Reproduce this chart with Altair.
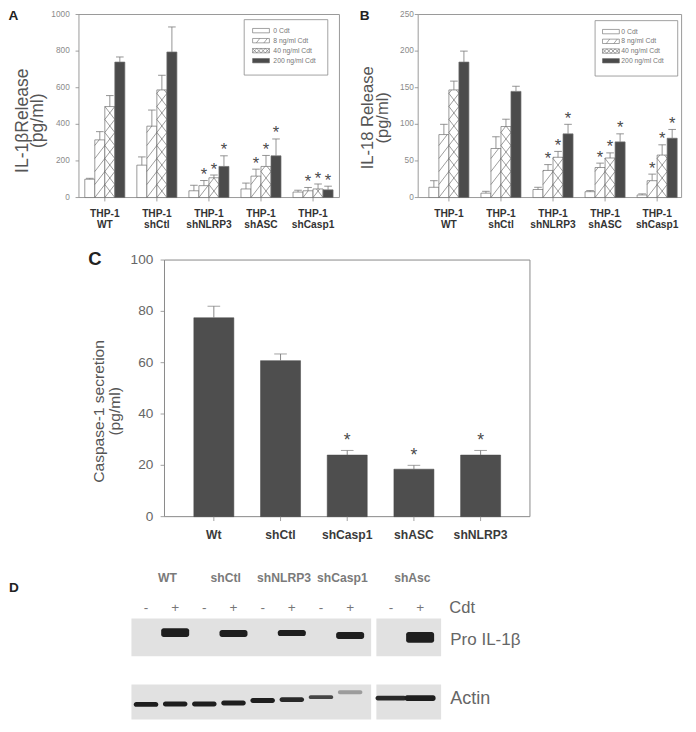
import altair as alt
import pandas as pd

S = 0.972          # the whole figure is shrunk a little to fit inside the page margin
W, H = 680, 712
FONT = "Liberation Sans"


def P(v):
    return round(v * S, 2)


# ---------------------------------------------------------------- data
ab_groups = ["THP-1\nWT", "THP-1\nshCtl", "THP-1\nshNLRP3", "THP-1\nshASC", "THP-1\nshCasp1"]
doses = ["0 Cdt", "8 ng/ml Cdt", "40 ng/ml Cdt", "200 ng/ml Cdt"]

# Panel A: IL-1beta release (pg/ml), one row per group, dose order
il1b_mean = [
    [100, 315, 497, 740],
    [177, 390, 588, 795],
    [37, 65, 108, 170],
    [47, 117, 170, 228],
    [30, 37, 47, 42],
]
il1b_err = [
    [5, 45, 60, 28],
    [45, 88, 80, 137],
    [30, 28, 15, 58],
    [32, 38, 60, 92],
    [10, 18, 27, 20],
]
il1b_sig = [
    [0, 0, 0, 0],
    [0, 0, 0, 0],
    [0, 1, 1, 1],
    [0, 1, 1, 1],
    [0, 1, 1, 1],
]
il1b_ticks = [0, 200, 400, 600, 800, 1000]

# Panel B: IL-18 release (pg/ml)
il18_mean = [
    [14, 86, 147, 185],
    [6, 67, 97, 145],
    [11, 37, 55, 87],
    [8, 41, 54, 76],
    [3.5, 23, 58, 81],
]
il18_err = [
    [9, 14, 12, 15],
    [2.5, 16, 10, 7],
    [3, 8, 8, 13],
    [1.5, 6, 7, 11],
    [1.5, 9, 14, 12],
]
il18_sig = [
    [0, 0, 0, 0],
    [0, 0, 0, 0],
    [0, 1, 1, 1],
    [0, 1, 1, 1],
    [0, 1, 1, 1],
]
il18_ticks = [0, 50, 100, 150, 200, 250]

# Panel C: caspase-1 secretion (pg/ml)
casp_groups = ["Wt", "shCtl", "shCasp1", "shASC", "shNLRP3"]
casp_mean = [77.5, 60.8, 24.0, 18.5, 24.0]
casp_err = [4.5, 2.6, 1.8, 1.5, 1.8]
casp_sig = [0, 0, 1, 1, 1]
casp_ticks = [0, 20, 40, 60, 80, 100]

# Panel D: western blot (10 lanes, -/+ Cdt per cell line)
blot_groups = ["WT", "shCtl", "shNLRP3", "shCasp1", "shAsc"]
lane_sign = ["-", "+", "-", "+", "-", "+", "-", "+", "-", "+"]
pro_strength = [0, 1.2, 0, 0.95, 0, 0.85, 0, 0.95, 0, 1.45]     # pro IL-1beta band
pro_shift = [0, -1.5, 0, -0.5, 0, -1, 0, 1.5, 0, 3.5]
actin_strength = [1, 1, 1, 1, 1, 0.95, 0.8, 0.35, 0.95, 1.2]   # actin band
actin_shift = [2.5, 2, 2, 1, -1.5, -2.5, -5, -10, -4, -4]

# ---------------------------------------------------------------- styles
FILLS = ["#ffffff", "#ffffff", "#ffffff", "#4b4b4b"]
EDGE = "#6e6e6e"
ERR = "#7a7a7a"
FRAME = "#9a9a9a"
TICK = "#8a8a8a"
G_STEP = 5.2      # distance between groups, in bar widths
CAP = 0.38        # half width of an error cap, in bar widths
SLOPE = 1.3       # steepness of the hatch lines
HATCH = {"8 ng/ml Cdt": "/", "40 ng/ml Cdt": "/\\"}

R0 = "M-1,-0.26H1V0.26H-1Z"
SHAPES = [
    R0,
    R0 + "M-0.55,0.26L-0.15,-0.26M0.35,0.26L0.75,-0.26",
    R0 + "M-1,0.26L-0.5,-0.26L0,0.26L0.5,-0.26L1,0.26M-1,-0.26L-0.5,0.26L0,-0.26L0.5,0.26L1,-0.26",
    R0,
]


def box(L, R, T, B, color, sw=1.0):
    d = pd.DataFrame({"lo": [0], "hi": [1]})
    return alt.Chart(d).mark_rect(fillOpacity=0, stroke=color, strokeWidth=sw).encode(
        x=alt.X("lo:Q", scale=alt.Scale(domain=[0, 1], range=[P(L), P(R)], nice=False, zero=False), axis=None),
        x2="hi:Q",
        y=alt.Y("lo:Q", scale=alt.Scale(domain=[0, 1], range=[P(B), P(T)], nice=False, zero=False), axis=None),
        y2="hi:Q",
    )


def text_at(t, x, y, size, color="#555555", weight="normal", angle=0, align="center",
            line_height=None):
    kw = dict(font=FONT, fontSize=P(size), fontWeight=weight, color=color, align=align,
              baseline="middle", lineBreak="\n")
    if angle:
        kw["angle"] = angle
    if line_height:
        kw["lineHeight"] = P(line_height)
    return alt.Chart(pd.DataFrame({"t": [t]})).mark_text(**kw).encode(
        text="t:N", x=alt.value(P(x)), y=alt.value(P(y)))


def y_ticks(ticks, ys, L, tick_len, pad, size, color):
    tdf = pd.DataFrame({"v": ticks, "lab": [str(t) for t in ticks]})
    rules = alt.Chart(tdf).mark_rule(color=TICK, strokeWidth=0.8).encode(
        y=alt.Y("v:Q", scale=ys, axis=None), x=alt.value(P(L - tick_len)), x2=alt.value(P(L)))
    labs = alt.Chart(tdf).mark_text(align="right", baseline="middle", font=FONT,
                                    fontSize=P(size), color=color).encode(
        y=alt.Y("v:Q", scale=ys, axis=None), x=alt.value(P(L - tick_len - pad)), text="lab:N")
    return [rules, labs]


def panel_df(means, errs, sig):
    rows = []
    for g, name in enumerate(ab_groups):
        for d, dose in enumerate(doses):
            x0 = g * G_STEP + d
            m, e = means[g][d], errs[g][d]
            rows.append(dict(group=name, dose=dose, x0=x0, x1=x0 + 1, xc=x0 + 0.5,
                             c0=x0 + 0.5 - CAP, c1=x0 + 0.5 + CAP, val=m, top=m + e,
                             sig=sig[g][d]))
    return pd.DataFrame(rows)


def hatch_df(df, sp):
    segs = []
    for r in df.itertuples():
        for kind in HATCH.get(r.dose, ""):
            k = 0
            while k * sp < r.val:
                lo, hi = k * sp, (k + 1) * sp
                if kind == "/":
                    xa, ya = r.x0, lo
                    if hi <= r.val:
                        xb, yb = r.x1, hi
                    else:
                        xb, yb = r.x0 + (r.val - lo) / sp, r.val
                else:
                    xb, yb = r.x1, lo
                    if hi <= r.val:
                        xa, ya = r.x0, hi
                    else:
                        xa, ya = r.x0 + (hi - r.val) / sp, r.val
                segs.append(dict(x=xa, y=ya, x2=xb, y2=yb))
                k += 1
    return pd.DataFrame(segs)


def ab_panel(means, errs, sig, ymax, yticks, L, R, T, B, first_bar, unit,
             title, tcx, tcy, tsize, label_pad):
    df = panel_df(means, errs, sig)
    lo = -(first_bar - L) / unit
    hi = lo + (R - L) / unit
    sp = SLOPE * unit / ((B - T) / ymax)
    hdf = hatch_df(df, sp)
    xs = alt.Scale(domain=[lo, hi], range=[P(L), P(R)], nice=False, zero=False)
    ys = alt.Scale(domain=[0, ymax], range=[P(B), P(T)], nice=False, zero=False)
    centers = [g * G_STEP + 2 for g in range(len(ab_groups))]
    gdf = pd.DataFrame({"group": ab_groups, "gc": centers})

    bars = alt.Chart(df).mark_rect(stroke=EDGE, strokeWidth=0.7).encode(
        x=alt.X("x0:Q", scale=xs, axis=None), x2="x1:Q",
        y=alt.Y("val:Q", scale=ys, axis=None), y2=alt.Y2Datum(0),
        fill=alt.Fill("dose:N", scale=alt.Scale(domain=doses, range=FILLS), legend=None),
    )
    hatch = alt.Chart(hdf).mark_rule(color="#5a5a5a", strokeWidth=0.6).encode(
        x=alt.X("x:Q", scale=xs, axis=None), x2="x2:Q",
        y=alt.Y("y:Q", scale=ys, axis=None), y2="y2:Q",
    )
    err = alt.Chart(df).mark_rule(color=ERR, strokeWidth=0.8).encode(
        x=alt.X("xc:Q", scale=xs, axis=None),
        y=alt.Y("val:Q", scale=ys, axis=None), y2="top:Q",
    )
    caps = alt.Chart(df).mark_rule(color=ERR, strokeWidth=0.8).encode(
        x=alt.X("c0:Q", scale=xs, axis=None), x2="c1:Q",
        y=alt.Y("top:Q", scale=ys, axis=None),
    )
    stars = alt.Chart(df).transform_filter("datum.sig == 1").mark_text(
        text="*", font=FONT, fontSize=P(17), color="#4a4a4a", baseline="alphabetic", dy=-P(0.5)
    ).encode(
        x=alt.X("xc:Q", scale=xs, axis=None),
        y=alt.Y("top:Q", scale=ys, axis=None),
    )
    xt = alt.Chart(gdf).mark_rule(color=TICK, strokeWidth=0.8).encode(
        x=alt.X("gc:Q", scale=xs, axis=None), y=alt.value(P(B)), y2=alt.value(P(B + 4)))
    labels = alt.Chart(gdf).mark_text(
        lineBreak="\n", baseline="top", align="center", font=FONT, fontSize=P(10.5),
        fontWeight="bold", color="#333333", lineHeight=P(12), dy=P(11.4)
    ).encode(
        x=alt.X("gc:Q", scale=xs, axis=None),
        y=alt.YDatum(0, scale=ys, axis=None),
        text="group:N",
    )
    layers = [bars, hatch, err, caps, stars, xt, labels]
    layers += y_ticks(yticks, ys, L, 3.5, label_pad, 8.5, "#8a8a8a")
    return [box(L, R, T, B, FRAME), alt.layer(*layers),
            text_at(title, tcx, tcy, tsize, angle=270, line_height=15.5)]


def legend(L, R, T, B, sym_x, txt_x, row0, row3):
    dd = pd.DataFrame({"dose": doses})
    ys = alt.Scale(domain=doses, range=[P(row0), P(row3)], padding=0)
    sym = alt.Chart(dd).mark_point(filled=True, opacity=1, size=P(17.3) ** 2,
                                   stroke="#666666", strokeWidth=0.6).encode(
        x=alt.value(P(sym_x)),
        y=alt.Y("dose:N", sort=doses, scale=ys, axis=None),
        shape=alt.Shape("dose:N", scale=alt.Scale(domain=doses, range=SHAPES), legend=None),
        fill=alt.Fill("dose:N", scale=alt.Scale(domain=doses, range=FILLS), legend=None),
    )
    txt = alt.Chart(dd).mark_text(align="left", baseline="middle", font=FONT,
                                  fontSize=P(7), color="#777777").encode(
        x=alt.value(P(txt_x)),
        y=alt.Y("dose:N", sort=doses, scale=ys, axis=None),
        text="dose:N",
    )
    return [box(L, R, T, B, "#8a8a8a", 0.8), alt.layer(sym, txt)]


# ---------------------------------------------------------------- panels A, B
# (title x = centre of the first title line; the second line follows to its right)
panelA = ab_panel(il1b_mean, il1b_err, il1b_sig, 1000, il1b_ticks,
                  73, 341, 6.7, 195, 79, 10.3, "IL-1βRelease\n(pg/ml)", 15, 116, 18, 6)
panelB = ab_panel(il18_mean, il18_err, il18_sig, 250, il18_ticks,
                  422, 693, 6.7, 195, 433, 10.3, "IL-18 Release\n(pg/ml)", 370, 113, 17, 1)
legA = legend(243, 329, 12, 69, 260.3, 273, 23.3, 54.2)
legB = legend(604, 689, 13, 70, 620.3, 631, 24.3, 54.3)

# ---------------------------------------------------------------- panel C
cdf = pd.DataFrame({"group": casp_groups, "val": casp_mean,
                    "top": [m + e for m, e in zip(casp_mean, casp_err)], "sig": casp_sig})
cx = alt.Scale(domain=casp_groups, range=[P(161), P(537)], paddingInner=0.4, paddingOuter=0.44)
cy = alt.Scale(domain=[0, 100], range=[P(523.3), P(259.3)], nice=False, zero=False)
CX = alt.X("group:N", sort=casp_groups, scale=cx, axis=None)
c_bars = alt.Chart(cdf).mark_bar(color="#4e4e4e", stroke="#444444", strokeWidth=0.5).encode(
    x=CX, y=alt.Y("val:Q", scale=cy, axis=None))
c_err = alt.Chart(cdf).mark_rule(color=ERR, strokeWidth=0.9).encode(
    x=CX, y=alt.Y("val:Q", scale=cy, axis=None), y2="top:Q")
c_caps = alt.Chart(cdf).mark_tick(color=ERR, thickness=1, size=P(13)).encode(
    x=CX, y=alt.Y("top:Q", scale=cy, axis=None))
c_stars = alt.Chart(cdf).transform_filter("datum.sig == 1").mark_text(
    text="*", font=FONT, fontSize=P(18), color="#4a4a4a", baseline="alphabetic", dy=-P(4.5)
).encode(x=CX, y=alt.Y("top:Q", scale=cy, axis=None))
c_xt = alt.Chart(cdf).mark_rule(color=TICK, strokeWidth=0.8).encode(
    x=CX, y=alt.value(P(523.3)), y2=alt.value(P(527.8)))
c_xl = alt.Chart(cdf).mark_text(font=FONT, fontSize=P(12.5), fontWeight="bold",
                                color="#3a3a3a", baseline="middle").encode(
    x=CX, y=alt.value(P(542)), text="group:N")
panelC = [box(161, 537, 259.3, 523.3, "#8a8a8a", 1.0),
          alt.layer(c_bars, c_err, c_caps, c_stars, c_xt, c_xl,
                    *y_ticks(casp_ticks, cy, 161, 4, 7.5, 14, "#666666")),
          text_at("Caspase-1 secretion\n(pg/ml)", 93.5, 415, 16, angle=270, line_height=16.5)]

# ---------------------------------------------------------------- panel D (blot)
GAP = 0.4
lanes = pd.DataFrame({"lane": list(range(len(lane_sign))), "sign": lane_sign,
                      "pro": pro_strength, "pro_shift": pro_shift,
                      "actin": actin_strength, "actin_shift": actin_shift})
lanes["pos"] = lanes["lane"] + GAP * (lanes["lane"] >= 8)
bx = alt.Scale(domain=[-1, 11], range=[P(112), P(472)], nice=False, zero=False)
by = alt.Scale(domain=[560, 732], range=[P(560), P(732)], nice=False, zero=False)

grp = pd.DataFrame({"name": blot_groups,
                    "pos": [(lanes["pos"][2 * i] + lanes["pos"][2 * i + 1]) / 2 for i in range(5)]})
d_groups = alt.Chart(grp).mark_text(font=FONT, fontSize=P(12.5), fontWeight="bold",
                                    color="#7a7a7a", baseline="middle", dx=P(7)).encode(
    x=alt.X("pos:Q", scale=bx, axis=None), y=alt.value(P(586)), text="name:N")
d_signs = alt.Chart(lanes).mark_text(font=FONT, fontSize=P(14), color="#777777",
                                     baseline="middle").encode(
    x=alt.X("pos:Q", scale=bx, axis=None), y=alt.value(P(617)), text="sign:N")

mem_rows = []
for top_, bot_ in [(628, 667), (696, 732)]:
    for a, b in [(0, 7), (8, 9)]:
        mem_rows.append(dict(x=lanes["pos"][a] - 0.5, x2=lanes["pos"][b] + 0.72, y=top_, y2=bot_))
mem = pd.DataFrame(mem_rows)
d_mem = alt.Chart(mem).mark_rect(color="#e1e1e1").encode(
    x=alt.X("x:Q", scale=bx, axis=None), x2="x2:Q",
    y=alt.Y("y:Q", scale=by, axis=None), y2="y2:Q")

bands = []
for r in lanes.itertuples():
    if r.pro > 0:
        th = 7.5 * r.pro
        bands.append(dict(x=r.pos - 0.48, x2=r.pos + 0.48, y=644 + r.pro_shift - th / 2,
                          y2=644 + r.pro_shift + th / 2, o=1.0))
    w = 0.42 if r.lane < 8 else 0.53
    th = 5 * max(r.actin, 0.8)
    bands.append(dict(x=r.pos - w, x2=r.pos + w, y=714 + r.actin_shift - th / 2,
                      y2=714 + r.actin_shift + th / 2, o=min(1.0, r.actin)))
bdf = pd.DataFrame(bands)
d_band = alt.Chart(bdf).mark_rect(color="#1e1e1e", cornerRadius=P(2.5)).encode(
    x=alt.X("x:Q", scale=bx, axis=None), x2="x2:Q",
    y=alt.Y("y:Q", scale=by, axis=None), y2="y2:Q",
    opacity=alt.Opacity("o:Q", scale=alt.Scale(domain=[0, 1], range=[0, 1]), legend=None))
panelD = [alt.layer(d_mem, d_band), d_groups, d_signs,
          text_at("Cdt", 454, 617, 17, color="#666666", align="left"),
          text_at("Pro IL-1β", 455, 650, 17.5, color="#666666", align="left"),
          text_at("Actin", 455, 711, 18.5, color="#666666", align="left")]

letters = [text_at("A", 5.5, 8, 14, color="#222222", weight="bold"),
           text_at("B", 367, 8, 14, color="#222222", weight="bold"),
           text_at("C", 89.5, 258.5, 19, color="#222222", weight="bold"),
           text_at("D", 6, 597, 14, color="#222222", weight="bold")]

layers = panelA + legA + panelB + legB + panelC + panelD + letters

chart = alt.layer(*layers).resolve_scale(
    x="independent", y="independent", opacity="independent"
).properties(
    width=W, height=H, padding=0, autosize=alt.AutoSizeParams(type="none")
).configure_view(strokeWidth=0)

chart.save("out.html", embed_options={"renderer": "svg", "actions": False})
